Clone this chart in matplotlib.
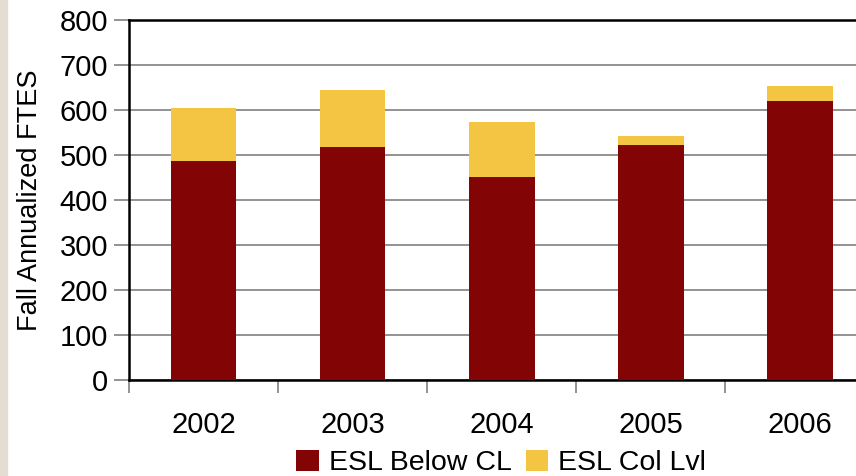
import matplotlib.pyplot as plt
from matplotlib.patches import Rectangle
import numpy as np

plt.rcParams['font.family'] = ['Liberation Sans', 'DejaVu Sans']

years = ['2002', '2003', '2004', '2005', '2006']
below_cl = [487, 518, 451, 522, 620]
col_lvl = [117, 127, 122, 20, 33]

red = '#820404'
yellow = '#F4C542'

fig = plt.figure(figsize=(8.56, 4.76), dpi=100)
# beige strip on the left edge
fig.patches.append(Rectangle((0, 0), 7 / 856, 1, transform=fig.transFigure,
                             color='#E6DDD2', zorder=0))

ax = fig.add_axes([129 / 856, 96 / 476, 745.5 / 856, 360 / 476])
x = np.arange(len(years))
ax.bar(x, below_cl, width=0.44, color=red, label='ESL Below CL', zorder=3)
ax.bar(x, col_lvl, width=0.44, bottom=below_cl, color=yellow,
       label='ESL Col Lvl', zorder=3)

ax.set_xlim(-0.5, len(years) - 0.5)
ax.set_ylim(0, 800)
ax.set_yticks(range(0, 801, 100))
ax.yaxis.grid(True, color='#808080', linewidth=1.2, zorder=1)
ax.set_xticks(x)
ax.set_xticklabels(years, fontsize=21)
ax.set_xticks(np.arange(-0.5, len(years)), minor=True)
ax.tick_params(axis='x', which='major', length=0, pad=22)
ax.tick_params(axis='x', which='minor', length=9, color='#808080', width=1.2)
ax.tick_params(axis='y', length=11, color='#808080', width=1.2, pad=4,
               labelsize=21)
ax.set_ylabel('Fall Annualized FTES', fontsize=19.5, labelpad=12)

for side in ['left', 'bottom', 'top']:
    ax.spines[side].set_color('black')
    ax.spines[side].set_linewidth(1.8)
ax.spines['right'].set_visible(False)

fig.legend(loc='center', bbox_to_anchor=(501 / 856, 1 - 463 / 476), ncol=2,
           frameon=False, fontsize=20.5, handlelength=0.8, handleheight=0.8,
           handletextpad=0.35, columnspacing=0.5)

fig.savefig('out.png', dpi=100)
